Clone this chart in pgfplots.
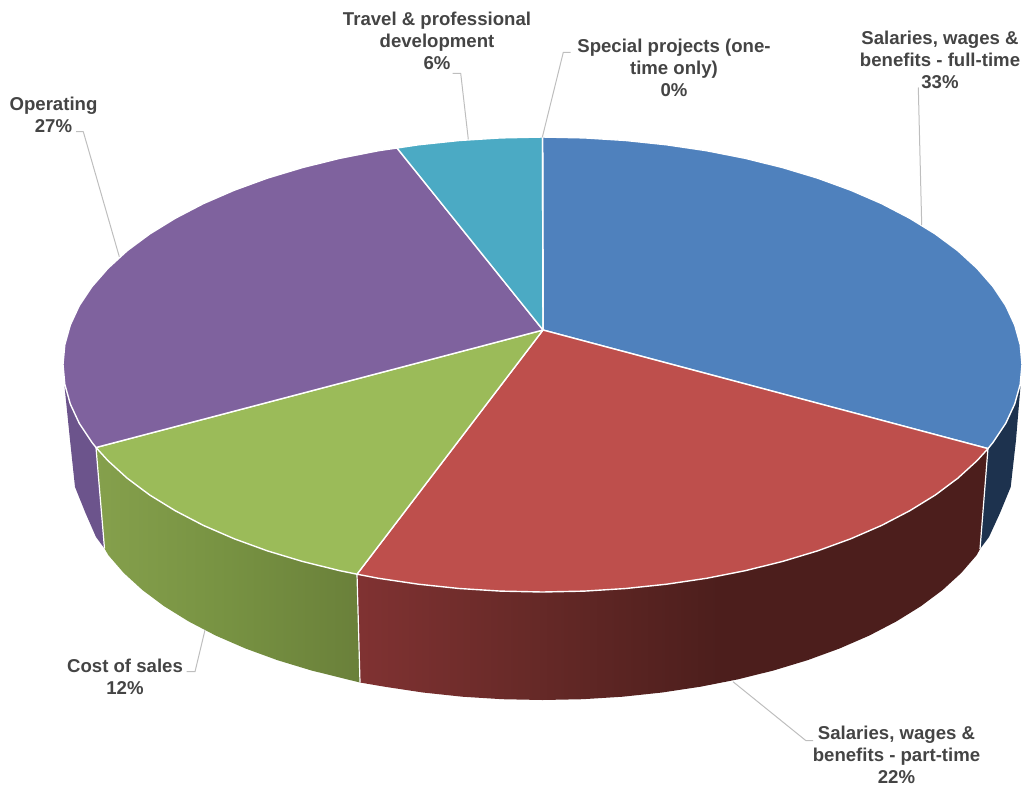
\documentclass[border=0pt]{standalone}
\usepackage{fontspec}
\setmainfont{Liberation Sans}
\usepackage{pgfplots}
\pgfplotsset{compat=1.18}

\definecolor{pieblue}{RGB}{79,129,189}
\definecolor{piered}{RGB}{190,79,76}
\definecolor{piegreen}{RGB}{155,187,89}
\definecolor{piepurple}{RGB}{127,98,158}
\definecolor{pieteal}{RGB}{75,170,196}
\definecolor{sideblue}{RGB}{29,50,78}
\definecolor{sidepurple}{RGB}{108,84,140}
\definecolor{labeltext}{RGB}{68,68,68}
\definecolor{leader}{RGB}{190,190,190}
\definecolor{ra}{RGB}{128,50,50}
\definecolor{rb}{RGB}{104,42,40}
\definecolor{rc}{RGB}{76,30,28}
\definecolor{ga}{RGB}{133,160,76}
\definecolor{gb}{RGB}{119,146,66}
\definecolor{gc}{RGB}{106,128,58}

% Side walls are shaded left to right; the path's box spans 25bp to 75bp
\pgfdeclarehorizontalshading{redwall}{100bp}{
  color(0bp)=(ra); color(25bp)=(ra); color(38bp)=(rb);
  color(54bp)=(rc); color(100bp)=(rc)}
\pgfdeclarehorizontalshading{greenwall}{100bp}{
  color(0bp)=(ga); color(25bp)=(ga); color(50bp)=(gb);
  color(75bp)=(gc); color(100bp)=(gc)}

\tikzset{
  slice/.style={draw=white, line width=1.4pt, line join=round},
  wall/.style={draw=none},
  edge/.style={draw=white, line width=1.2pt},
  lead/.style={draw=leader, line width=1pt, line join=round},
  lab/.style={font=\fontsize{18.6}{22.2}\selectfont\bfseries, text=labeltext, align=center, inner sep=0pt, anchor=center},
}

\begin{document}
\begin{tikzpicture}
\begin{axis}[
  scale only axis, width=1024pt, height=787pt,
  xmin=0, xmax=1024, ymin=0, ymax=787, y dir=reverse,
  hide axis, clip=false,
  every axis plot/.append style={no markers, sharp plot, forget plot},
]
% the page is exactly the plot area
\path (axis cs:0,0) rectangle (axis cs:1024,787);

% --- side walls ---
\addplot[wall, fill=sideblue] coordinates {
 (1020.5,386) (1016,440) (1010.7,487) (1000,513) (989,537) (980,549) (988,448) (1000,420) (1020.5,386)};
\addplot[wall, fill=sidepurple] coordinates {
 (64.5,386) (70,440) (75,487) (85.5,513) (96,537) (104.5,548.5) (96,447.5) (80,420) (64.5,386)};
\addplot[wall, shading=redwall, shade] coordinates {
 (980,549) (976.6,555.2) (961.2,573) (942.6,590) (920.9,606.2) (896.4,621.4) (869.2,635.6)
 (839.5,648.5) (807.5,660.2) (773.5,670.5) (737.7,679.4) (700.5,686.7) (662.1,692.5)
 (622.7,696.7) (582.8,699.2) (542.5,700) (502.2,699.2) (462.3,696.7) (422.9,692.5)
 (384.5,686.7) (360,682.5) (357,574) (988,448) (980,549)};
\addplot[wall, shading=greenwall, shade] coordinates {
 (360,682.5) (347.3,679.4) (311.5,670.5) (277.5,660.2) (245.5,648.5) (215.8,635.6)
 (188.6,621.4) (164.1,606.2) (142.4,590) (123.8,573) (108.4,555.2) (104.5,548.5)
 (96,447.5) (357,574) (360,682.5)};
\addplot[edge] coordinates {(988,448) (980,549)};
\addplot[edge] coordinates {(357,574) (360,682.5)};
\addplot[edge] coordinates {(96,447.5) (104.5,548.5)};

% --- top face, one wedge per category ---
% Salaries, wages & benefits - full-time, 33%
\addplot[slice, fill=pieblue] coordinates {
 (543,330) (542.5,137) (584.3,137.9) (625.8,140.5) (666.6,144.8) (706.5,150.7) (745.1,158.3)
 (782.3,167.5) (817.5,178.1) (850.7,190.2) (881.6,203.6) (909.8,218.3) (935.3,234)
 (957.8,250.7) (977.1,268.4) (993.1,286.7) (1005.7,305.6) (1014.7,325) (1020.2,344.7)
 (1022,364.5) (1020.2,384.3) (1014.7,404) (1005.7,423.4) (993.1,442.3) (988,448.6) (543,330)};
% Salaries, wages & benefits - part-time, 22%
\addplot[slice, fill=piered] coordinates {
 (543,330) (988,448.6) (977.1,460.6) (957.8,478.2) (935.3,495) (909.8,510.7) (881.6,525.4)
 (850.7,538.8) (817.5,550.9) (782.3,561.5) (745.1,570.7) (706.5,578.3) (666.6,584.2)
 (625.8,588.5) (584.3,591.1) (542.5,592) (500.7,591.1) (459.2,588.5) (418.4,584.2)
 (378.5,578.3) (357,574.2) (543,330)};
% Cost of sales, 12%
\addplot[slice, fill=piegreen] coordinates {
 (543,330) (357,574.2) (339.9,570.7) (302.7,561.5) (267.5,550.9) (234.3,538.8) (203.4,525.4)
 (175.2,510.7) (149.7,495) (127.2,478.2) (107.9,460.6) (96,447.5) (543,330)};
% Operating, 27%
\addplot[slice, fill=piepurple] coordinates {
 (543,330) (96,447.5) (91.9,442.3) (79.3,423.4) (70.3,404) (64.8,384.3) (63,364.5) (64.8,344.7)
 (70.3,325) (79.3,305.6) (91.9,286.7) (107.9,268.4) (127.2,250.7) (149.7,234) (175.2,218.3)
 (203.4,203.6) (234.3,190.2) (267.5,178.1) (302.7,167.5) (339.9,158.3) (378.5,150.7)
 (397,148) (543,330)};
% Travel & professional development, 6%
\addplot[slice, fill=pieteal] coordinates {
 (543,330) (397,148) (418.4,144.8) (459.2,140.5) (500.7,137.9) (542.5,137) (543,330)};
% Special projects (one-time only), 0%: no area, only its edge
\addplot[slice] coordinates {(543,330) (542.5,137)};

% --- leader lines ---
\addplot[lead] coordinates {(918.3,87.5) (921.7,225)};
\addplot[lead] coordinates {(733,681.7) (806,740.7) (813,740.7)};
\addplot[lead] coordinates {(205,630) (195,671.7) (186.7,671.7)};
\addplot[lead] coordinates {(119.3,256.7) (83.3,131.7) (76,131.7)};
\addplot[lead] coordinates {(468.3,139.3) (460.7,73.3) (452.7,73.3)};
\addplot[lead] coordinates {(542.3,137.3) (563.3,52.3) (570.7,52.3)};

% --- labels ---
\node[lab] at (axis cs:940,60) {Salaries, wages \&\\benefits - full-time\\33\%};
\node[lab] at (axis cs:896.5,755) {Salaries, wages \&\\benefits - part-time\\22\%};
\node[lab] at (axis cs:125,676.5) {Cost of sales\\12\%};
\node[lab] at (axis cs:53.5,114.5) {Operating\\27\%};
\node[lab] at (axis cs:437,41) {Travel \& professional\\development\\6\%};
\node[lab] at (axis cs:674,68) {Special projects (one-\\time only)\\0\%};
\end{axis}
\end{tikzpicture}
\end{document}
